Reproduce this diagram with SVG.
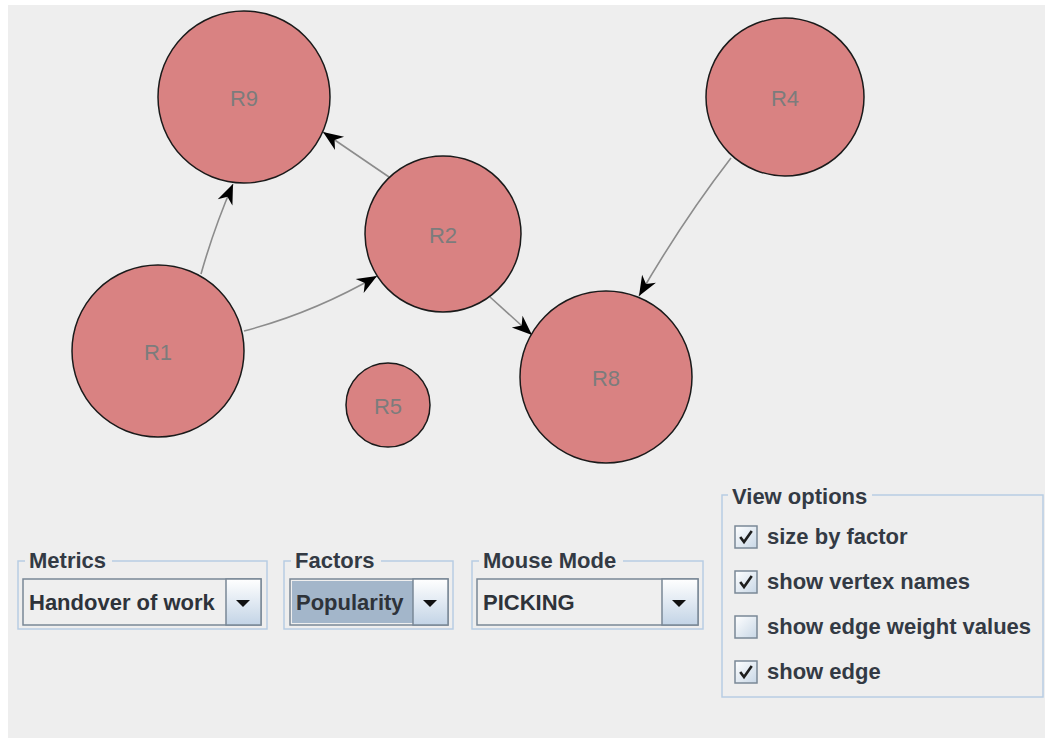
<svg xmlns="http://www.w3.org/2000/svg" width="1045" height="738" viewBox="0 0 1045 738">
  <style>
    .node circle { fill: #d98282; stroke: #1a1a1a; stroke-width: 1.5; }
    .node text { font-family: "Liberation Sans", Arial, sans-serif; font-size: 22px; fill: #7c7c7c; text-anchor: middle; }
    .edge { fill: none; stroke: #8c8c8c; stroke-width: 1.6; marker-end: url(#arrow); }
    .frame { fill: none; stroke: #b8cde3; stroke-width: 1.5; }
    .title { font-family: "Liberation Sans", Arial, sans-serif; font-size: 22px; font-weight: bold; fill: #333a44; }
    .combo-text { font-family: "Liberation Sans", Arial, sans-serif; font-size: 22px; font-weight: bold; fill: #2e333a; }
    .combo-box { fill: #efefef; stroke: #7a8896; stroke-width: 1.5; }
    .combo-btn { fill: url(#btnGrad); stroke: #7a8896; stroke-width: 1.5; }
    .check { fill: url(#chkGrad); stroke: #7a8896; stroke-width: 1.5; }
    .tick { fill: none; stroke: #1e1e1e; stroke-width: 2.6; stroke-linecap: square; }
    .label { font-family: "Liberation Sans", Arial, sans-serif; font-size: 22px; font-weight: bold; fill: #333a44; }
  </style>
  <defs>
    <marker id="arrow" viewBox="-22 -10 24 20" refX="0" refY="0" markerWidth="24" markerHeight="20" markerUnits="userSpaceOnUse" orient="auto">
      <path d="M0,0 L-20,-8 L-14,0 L-20,8 Z" fill="#000"/>
    </marker>
    <linearGradient id="btnGrad" x1="0" y1="0" x2="0" y2="1">
      <stop offset="0" stop-color="#ffffff"/>
      <stop offset="1" stop-color="#c3d4e6"/>
    </linearGradient>
    <linearGradient id="chkGrad" x1="0" y1="0" x2="1" y2="1">
      <stop offset="0" stop-color="#ffffff"/>
      <stop offset="1" stop-color="#c8d7e6"/>
    </linearGradient>
  </defs>

  <!-- window background -->
  <rect x="0" y="0" width="1045" height="738" fill="#ffffff"/>
  <rect x="8" y="5" width="1037" height="733" fill="#eeeeee"/>

  <!-- connectors -->
  <g id="edges">
    <path class="edge" d="M201,274 Q214,228 233,184"/>
    <path class="edge" d="M244,331 Q313,313 377,276"/>
    <path class="edge" d="M389,177 L323,132"/>
    <path class="edge" d="M490,297 L532,335"/>
    <path class="edge" d="M731,158 Q683,220 639,296"/>
  </g>

  <!-- vertices -->
  <g id="R9" class="node"><circle cx="244" cy="97" r="86"/><text x="244" y="106">R9</text></g>
  <g id="R4" class="node"><circle cx="785" cy="97" r="79"/><text x="785" y="106">R4</text></g>
  <g id="R2" class="node"><circle cx="443" cy="234" r="78"/><text x="443" y="243">R2</text></g>
  <g id="R1" class="node"><circle cx="158" cy="351" r="86"/><text x="158" y="360">R1</text></g>
  <g id="R5" class="node"><circle cx="388" cy="405" r="42"/><text x="388" y="414">R5</text></g>
  <g id="R8" class="node"><circle cx="606" cy="377" r="86"/><text x="606" y="386">R8</text></g>

  <!-- Metrics panel -->
  <g id="metrics">
    <rect class="frame" x="18" y="561" width="249" height="68"/>
    <rect x="25" y="550" width="87" height="20" fill="#eeeeee"/>
    <text class="title" x="29" y="568">Metrics</text>
    <rect class="combo-box" x="23" y="579" width="238" height="46"/>
    <rect class="combo-btn" x="226" y="579" width="35" height="46"/>
    <path d="M236,600 L250,600 L243,607 Z" fill="#111"/>
    <text class="combo-text" x="29" y="610">Handover of work</text>
  </g>

  <!-- Factors panel -->
  <g id="factors">
    <rect class="frame" x="284" y="561" width="169" height="68"/>
    <rect x="291" y="550" width="90" height="20" fill="#eeeeee"/>
    <text class="title" x="295" y="568">Factors</text>
    <rect class="combo-box" x="290" y="579" width="158" height="46"/>
    <rect x="292" y="581" width="121" height="42" fill="#a3b6ca"/>
    <rect class="combo-btn" x="413" y="579" width="35" height="46"/>
    <path d="M423,600 L437,600 L430,607 Z" fill="#111"/>
    <text class="combo-text" x="296" y="610">Popularity</text>
  </g>

  <!-- Mouse Mode panel -->
  <g id="mouse-mode">
    <rect class="frame" x="472" y="561" width="231" height="68"/>
    <rect x="479" y="550" width="144" height="20" fill="#eeeeee"/>
    <text class="title" x="483" y="568">Mouse Mode</text>
    <rect class="combo-box" x="477" y="579" width="221" height="46"/>
    <rect class="combo-btn" x="662" y="579" width="36" height="46"/>
    <path d="M672,600 L686,600 L679,607 Z" fill="#111"/>
    <text class="combo-text" x="483" y="610">PICKING</text>
  </g>

  <!-- View options panel -->
  <g id="view-options">
    <rect class="frame" x="722" y="495" width="321" height="202"/>
    <rect x="728" y="484" width="144" height="20" fill="#eeeeee"/>
    <text class="title" x="732" y="504">View options</text>

    <rect class="check" x="735" y="526" width="22" height="22"/>
    <path class="tick" d="M741,538 L744,542 L751,532"/>
    <text class="label" x="767" y="544">size by factor</text>

    <rect class="check" x="735" y="571" width="22" height="22"/>
    <path class="tick" d="M741,583 L744,587 L751,577"/>
    <text class="label" x="767" y="589">show vertex names</text>

    <rect class="check" x="735" y="616" width="22" height="22"/>
    <text class="label" x="767" y="634">show edge weight values</text>

    <rect class="check" x="735" y="661" width="22" height="22"/>
    <path class="tick" d="M741,673 L744,677 L751,667"/>
    <text class="label" x="767" y="679">show edge</text>
  </g>
</svg>
